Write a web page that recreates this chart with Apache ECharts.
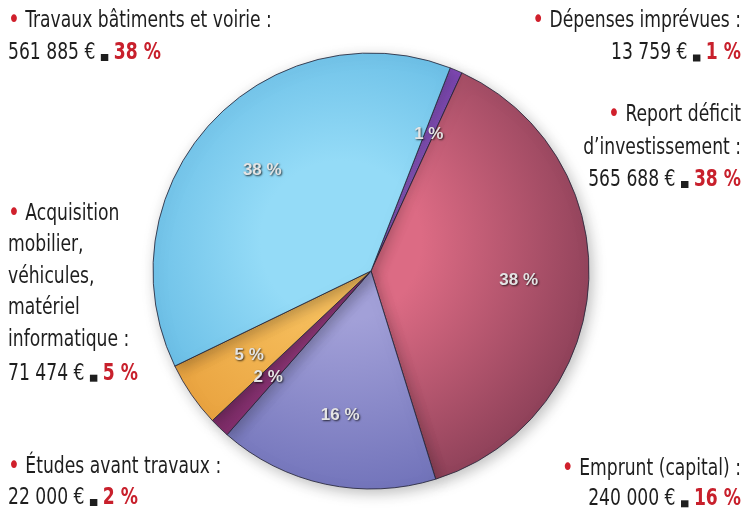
<!DOCTYPE html>
<html>
<head>
<meta charset="utf-8">
<script src="https://cdn.jsdelivr.net/npm/echarts@6/dist/echarts.min.js"></script>
<style>
html,body{margin:0;padding:0;background:#fff;}
#c{width:745px;height:511px;}
</style>
</head>
<body>
<div id="c"></div>
<script>
// ---- data ----
var categories = ['Dépenses imprévues', 'Report déficit d’investissement', 'Emprunt (capital)', 'Études avant travaux', 'Acquisition mobilier, véhicules, matériel informatique', 'Travaux bâtiments et voirie'];
var amounts = [13759, 565688, 240000, 22000, 71474, 561885];
var amountLabels = ['13 759 €', '565 688 €', '240 000 €', '22 000 €', '71 474 €', '561 885 €'];
var percents = [1, 38, 16, 2, 5, 38];
var titleLines = [
  ['Dépenses imprévues :'],
  ['Report déficit', 'd’investissement :'],
  ['Emprunt (capital) :'],
  ['Études avant travaux :'],
  ['Acquisition', 'mobilier,', 'véhicules,', 'matériel', 'informatique :'],
  ['Travaux bâtiments et voirie :']
];

// ---- styles ----
var sliceColors = [
  ['#9a62d4', '#7a40b0'],
  ['#dc6b84', '#8c4058'],
  ['#a2a0d8', '#6e70b8'],
  ['#963a7e', '#7a2a64'],
  ['#f6be5c', '#e59a36'],
  ['#94dbf7', '#58b2df']
];
var CX = 371, CY = 271, R = 218;
var FONT = "'DejaVu Sans Condensed', 'Liberation Sans Narrow', sans-serif";
var FS = 23, SX = 0.83;

function grad(c) {
  return {
    type: 'radial', x: CX - 30, y: CY - 30, r: R + 50, global: true,
    colorStops: [{offset: 0, color: c[0]}, {offset: 0.3, color: c[0]}, {offset: 1, color: c[1]}]
  };
}

var pieData = amounts.map(function (v, i) {
  return {name: categories[i], value: v, itemStyle: {color: grad(sliceColors[i])}};
});
var labelData = amounts.map(function (v, i) {
  return {name: categories[i], value: v};
});

function titleEl(i, x, firstCenter, align, lh) {
  var txt = titleLines[i].map(function (l, k) {
    return k === 0 ? '{b|•}{t| ' + l + '}' : '{t|' + l + '}';
  }).join('\n');
  return {
    type: 'text', x: x, y: firstCenter - lh / 2, scaleX: SX, silent: true,
    style: {
      text: txt, align: align, verticalAlign: 'top',
      rich: {
        b: {fill: '#d0202c', fontSize: 27, fontFamily: FONT, lineHeight: lh},
        t: {fill: '#1e1e1e', fontSize: FS, fontFamily: FONT, lineHeight: lh}
      }
    }
  };
}
function amountEl(i, x, center, align) {
  return {
    type: 'text', x: x, y: center, scaleX: SX, silent: true,
    style: {
      text: '{t|' + amountLabels[i] + ' }{sq|}{t| }{p|' + percents[i] + ' %}',
      align: align, verticalAlign: 'middle',
      rich: {
        t: {fill: '#1e1e1e', fontSize: FS, fontFamily: FONT, lineHeight: 16},
        sq: {backgroundColor: '#1e1e1e', width: 9, height: 7, verticalAlign: 'bottom'},
        p: {fill: '#c8202c', fontSize: FS, fontWeight: 'bold', fontFamily: FONT, lineHeight: 16}
      }
    }
  };
}

var chart = echarts.init(document.getElementById('c'));
chart.setOption({
  backgroundColor: '#ffffff',
  animation: false,
  graphic: [
    titleEl(5, 8, 21.3, 'left', 31.7), amountEl(5, 8, 53, 'left'),
    titleEl(0, 741, 21.3, 'right', 31.7), amountEl(0, 741, 53.5, 'right'),
    titleEl(1, 741, 115, 'right', 33), amountEl(1, 741, 180, 'right'),
    titleEl(4, 8, 213.7, 'left', 31.6), amountEl(4, 8, 373.7, 'left'),
    titleEl(3, 8, 467, 'left', 31), amountEl(3, 8, 498, 'left'),
    titleEl(2, 741, 468.7, 'right', 31), amountEl(2, 741, 499.3, 'right')
  ],
  series: [
    {
      type: 'pie',
      center: [CX, CY],
      radius: [0, R],
      startAngle: 68.7,
      clockwise: true,
      silent: true,
      label: {show: false},
      labelLine: {show: false},
      itemStyle: {borderColor: 'rgba(40,40,60,0.85)', borderWidth: 1, shadowBlur: 14, shadowColor: 'rgba(0,0,0,0.25)', shadowOffsetX: 3, shadowOffsetY: 4},
      data: pieData
    },
    {
      type: 'pie',
      center: [CX, CY],
      radius: [72, R],
      startAngle: 68.7,
      clockwise: true,
      silent: true,
      itemStyle: {color: 'rgba(0,0,0,0)'},
      labelLine: {show: false},
      label: {
        show: true, position: 'inside',
        formatter: function (p) { return percents[p.dataIndex] + ' %'; },
        color: '#e4e4e4', fontSize: 17, fontWeight: 'bold', fontFamily: "'Liberation Sans', Arial, sans-serif",
        textShadowColor: 'rgba(0,0,0,0.75)', textShadowBlur: 2, textShadowOffsetX: 1, textShadowOffsetY: 1
      },
      data: labelData
    }
  ]
});
</script>
</body>
</html>
